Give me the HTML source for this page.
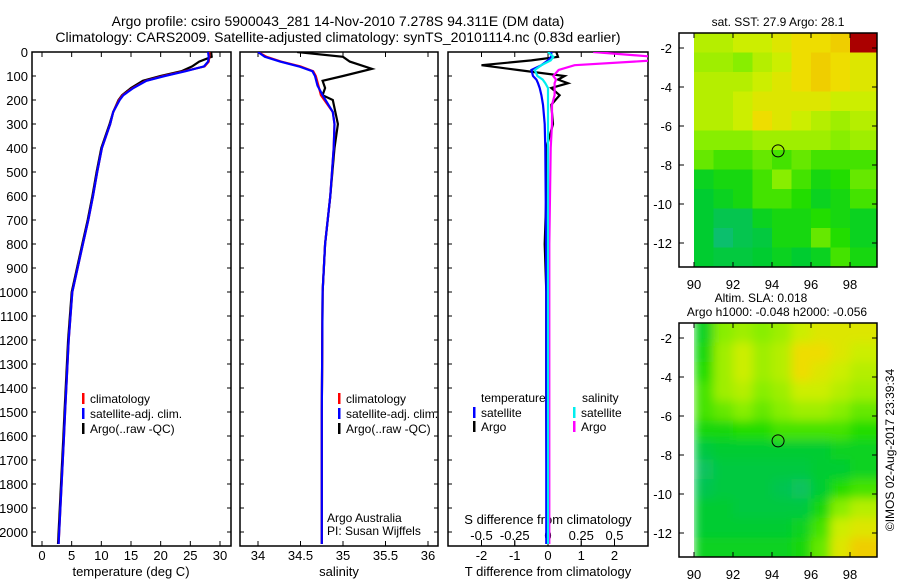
<!DOCTYPE html>
<html><head><meta charset="utf-8"><style>
body{margin:0;background:#fff}
svg{display:block;font-family:"Liberation Sans",sans-serif}
text{fill:#000}
</style></head><body>
<svg id="fig" width="900" height="580" viewBox="0 0 900 580">
<defs>
<clipPath id="c1"><rect x="32" y="52" width="199" height="494"/></clipPath>
<clipPath id="c2"><rect x="240" y="52" width="198" height="494"/></clipPath>
<clipPath id="c3"><rect x="448" y="52" width="200" height="494"/></clipPath>
<filter id="blur"><feGaussianBlur stdDeviation="5"/></filter>
<clipPath id="m1"><rect x="694" y="33" width="183" height="234"/></clipPath>
<clipPath id="m2"><rect x="694" y="323" width="183" height="234"/></clipPath>
</defs>
<text x="338" y="26" font-size="14" text-anchor="middle">Argo profile: csiro 5900043_281 14-Nov-2010 7.278S 94.311E (DM data)</text>
<text x="338" y="42" font-size="14" text-anchor="middle">Climatology: CARS2009. Satellite-adjusted climatology: synTS_20101114.nc (0.83d earlier)</text>
<g id="g"></g>
</svg>
<script>
// ---- data ----
const depthTicks=[0,100,200,300,400,500,600,700,800,900,1000,1100,1200,1300,1400,1500,1600,1700,1800,1900,2000];
const tTicks=[0,5,10,15,20,25,30];
const sTicks=[34,34.5,35,35.5,36];
const tdTicks=[-2,-1,0,1,2];
const sdTicks=[-0.5,-0.25,0,0.25,0.5];
const sdTickLabels=["-0.5","-0.25","0","0.25","0.5"];
const lonTicks=[90,92,94,96,98];
const latTicks=[-2,-4,-6,-8,-10,-12];

const tDepth=[0,20,40,60,80,100,120,150,180,200,250,300,400,500,600,700,800,900,1000,1100,1200,1300,1400,1500,1600,1700,1800,1900,2000,2050];
const tClim=[28.2,28.2,28.1,27.4,24,20.5,17.5,15.3,13.6,13,12,11.5,10.1,9.3,8.6,7.8,6.9,6.0,5.1,4.8,4.5,4.3,4.1,3.9,3.7,3.5,3.3,3.1,2.9,2.8];
const tSat=[28.0,28.1,28.0,27.3,24.2,20.7,17.6,15.4,13.7,13.1,12.0,11.5,10.1,9.3,8.6,7.8,6.9,6.0,5.1,4.8,4.5,4.3,4.1,3.9,3.7,3.5,3.3,3.1,2.9,2.8];
const tArgo=[28.5,28.6,26.5,25.3,23.5,20.0,17.0,15.0,13.5,12.9,12.0,11.4,10.0,9.2,8.5,7.7,6.8,5.9,5.0,4.7,4.4,4.2,4.0,3.8,3.6,3.4,3.2,3.0,2.8,2.7];

const sDepth=[0,20,40,60,80,100,140,180,250,300,400,600,800,1000,1500,2050];
const sClim=[34.0,34.1,34.27,34.5,34.65,34.68,34.71,34.74,34.88,34.9,34.89,34.85,34.79,34.76,34.75,34.75];
const sSat=[34.0,34.08,34.26,34.48,34.64,34.67,34.7,34.76,34.88,34.9,34.89,34.85,34.79,34.76,34.75,34.75];
const sArgoDepth=[0,20,40,70,100,120,150,180,200,300,400,600,800,1000,1500,2050];
const sArgo=[34.46,35.0,35.08,35.34,35.0,34.76,34.79,34.76,34.88,34.94,34.9,34.85,34.79,34.76,34.75,34.75];

const dDepth=[0,20,35,55,75,100,115,130,150,180,220,300,400,600,800,1000,1500,2050];
const dTArgo=[0.25,0.3,-0.5,-2.0,-0.9,0.5,0.3,0.6,0.1,0.35,0.1,0.15,-0.05,-0.05,-0.1,-0.05,-0.05,-0.03];
const dTSat=[0.1,0.1,0.0,-0.2,-0.5,-0.45,-0.35,-0.3,-0.25,-0.2,-0.15,-0.1,-0.08,-0.07,-0.06,-0.05,-0.05,-0.05];
const dSSat=[0,0.04,0.02,-0.05,-0.1,-0.08,-0.04,-0.02,0,0,0,0,0,0,0,0,0,0];
const dSArgo=[0.34,0.8,0.8,0.2,0.08,0.04,0.06,0.05,0.05,0.05,0.03,0.03,0.02,0.015,0.01,0.01,0.01,0.01];

const sstGrid=[
[0.7,0.7,0.75,0.75,0.8,0.85,0.85,0.9,2],
[0.65,0.65,0.6,0.7,0.75,0.85,0.9,0.85,0.8],
[0.7,0.7,0.7,0.75,0.8,0.85,0.9,0.85,0.8],
[0.7,0.7,0.75,0.8,0.8,0.8,0.8,0.75,0.75],
[0.7,0.7,0.75,0.85,0.8,0.75,0.7,0.65,0.7],
[0.6,0.6,0.6,0.65,0.65,0.65,0.65,0.6,0.65],
[0.55,0.5,0.5,0.55,0.5,0.55,0.5,0.5,0.5],
[0.35,0.4,0.4,0.5,0.6,0.5,0.4,0.45,0.55],
[0.3,0.35,0.4,0.5,0.5,0.45,0.35,0.4,0.5],
[0.3,0.2,0.2,0.35,0.4,0.4,0.45,0.4,0.35],
[0.3,0.1,0.2,0.25,0.4,0.4,0.55,0.45,0.35],
[0.3,0.25,0.25,0.3,0.35,0.3,0.35,0.5,0.4]];
const slaGrid=[
[0.35,0.6,0.65,0.6,0.65,0.75,0.8,0.8,0.8],
[0.4,0.65,0.75,0.65,0.7,0.85,0.85,0.8,0.75],
[0.45,0.65,0.75,0.65,0.7,0.85,0.8,0.75,0.7],
[0.5,0.65,0.7,0.6,0.65,0.75,0.75,0.7,0.65],
[0.5,0.55,0.6,0.55,0.6,0.65,0.65,0.6,0.55],
[0.4,0.4,0.45,0.45,0.5,0.5,0.5,0.5,0.45],
[0.25,0.3,0.3,0.3,0.3,0.3,0.3,0.35,0.35],
[0.15,0.25,0.25,0.25,0.25,0.25,0.3,0.3,0.35],
[0.2,0.25,0.25,0.25,0.2,0.15,0.3,0.45,0.5],
[0.3,0.3,0.25,0.25,0.25,0.25,0.4,0.6,0.7],
[0.3,0.3,0.3,0.3,0.3,0.35,0.5,0.75,0.8],
[0.35,0.35,0.35,0.35,0.35,0.4,0.55,0.8,0.9]];
const argoLon=94.311, argoLat=-7.278;

// ---- helpers ----
const NS='http://www.w3.org/2000/svg';
const G=document.getElementById('g');
function mk(tag,attrs,parent){const e=document.createElementNS(NS,tag);for(const k in attrs)e.setAttribute(k,attrs[k]);(parent||G).appendChild(e);return e;}
const yD=d=>52+d*0.24;
const xT=v=>42+v*5.933;
const xS=v=>258+(v-34)*85;
const xTd=v=>548+v*33.25;
const xSd=v=>548+v*133;

function frame(x,y,w,h,name){const r=mk('rect',{x:x,y:y,width:w,height:h,fill:'none',stroke:'#000','stroke-width':1.5});

}
function txt(x,y,s,opt){const t=mk('text',Object.assign({x:x,y:y,'font-size':13},opt||{}));t.textContent=s;return t;}
function line(xs,ds,fx,color,clip,name,w){
  const p=xs.map((v,i)=>fx(v).toFixed(1)+','+yD(ds[i]).toFixed(1)).join(' ');
  const e=mk('polyline',{points:p,fill:'none',stroke:color,'stroke-width':w||2.2,'clip-path':'url(#'+clip+')'});
  
  
}
function legend(x,y,color,label,name){
  const m=mk('rect',{x:x,y:y-10,width:2.5,height:11,fill:color});
  
  
  const t=txt(x+8,y,label,{'font-size':12});
  
  
}

// ---- panels ----
const panels=[[32,199,'c1'],[240,198,'c2'],[448,200,'c3']];
frame(32,52,199,494,'temperature-panel');
frame(240,52,198,494,'salinity-panel');
frame(448,52,200,494,'difference-panel');
depthTicks.forEach(d=>{
  const t=txt(28,yD(d)+5,String(d),{'text-anchor':'end'});
  
  
  panels.forEach(p=>{mk('line',{x1:p[0],x2:p[0]+4,y1:yD(d),y2:yD(d),stroke:'#000'});mk('line',{x1:p[0]+p[1]-4,x2:p[0]+p[1],y1:yD(d),y2:yD(d),stroke:'#000'});});
});
function xticks(ticks,fx,labels,ylab){
  ticks.forEach((v,i)=>{const x=fx(v);mk('line',{x1:x,x2:x,y1:546,y2:541,stroke:'#000'});mk('line',{x1:x,x2:x,y1:52,y2:57,stroke:'#000'});
    const t=txt(x,ylab,labels?labels[i]:String(v),{'text-anchor':'middle'});
    
    });
}
xticks(tTicks,xT,null,560);
xticks(sTicks,xS,null,560);
xticks(tdTicks,xTd,null,560);
sdTicks.forEach((v,i)=>{const x=xSd(v);mk('line',{x1:x,x2:x,y1:546,y2:540,stroke:'#000'});
  const t=txt(x,540,sdTickLabels[i],{'text-anchor':'middle'});
  
  });
[[131,'temperature (deg C)','temperature-axis-title'],[339,'salinity','salinity-axis-title'],[548,'T difference from climatology','t-diff-axis-title']].forEach(a=>{
  const t=txt(a[0],576,a[1],{'text-anchor':'middle'});
  
  });
const sdt=txt(548,524,'S difference from climatology',{'text-anchor':'middle'});



line(tArgo,tDepth,xT,'#000','c1','temp-argo');
line(tClim,tDepth,xT,'#f00','c1','temp-climatology');
line(tSat,tDepth,xT,'#00f','c1','temp-satellite');
line(sArgo,sArgoDepth,xS,'#000','c2','sal-argo');
line(sClim,sDepth,xS,'#f00','c2','sal-climatology');
line(sSat,sDepth,xS,'#00f','c2','sal-satellite');
line(dTArgo,dDepth,xTd,'#000','c3','tdiff-argo');
line(dSArgo,dDepth,xSd,'#f0f','c3','sdiff-argo');
line(dTSat,dDepth,xTd,'#00f','c3','tdiff-satellite');
line(dSSat,dDepth,xSd,'#0ee','c3','sdiff-satellite');

legend(82,403,'#f00','climatology','legend-t-climatology');
legend(82,418,'#00f','satellite-adj. clim.','legend-t-satellite');
legend(82,433,'#000','Argo(..raw -QC)','legend-t-argo');
legend(338,403,'#f00','climatology','legend-s-climatology');
legend(338,418,'#00f','satellite-adj. clim.','legend-s-satellite');
legend(338,433,'#000','Argo(..raw -QC)','legend-s-argo');
let t1=txt(481,402,'temperature',{'font-size':12});
let t2=txt(582,402,'salinity',{'font-size':12});
legend(473,417,'#00f','satellite','legend-tdiff-satellite');
legend(473,431,'#000','Argo','legend-tdiff-argo');
legend(573,417,'#0ee','satellite','legend-sdiff-satellite');
legend(573,431,'#f0f','Argo','legend-sdiff-argo');
let a1=txt(327,522,'Argo Australia',{'font-size':12});
let a2=txt(327,535,'PI: Susan Wijffels',{'font-size':12});

// ---- maps ----
const stops=[[0,[16,184,140]],[0.3,[0,204,48]],[0.45,[34,221,0]],[0.6,[136,238,0]],[0.75,[204,238,0]],[0.85,[238,221,0]],[1,[240,176,0]]];
function cmap(v){if(v>1.5)return '#aa0000';for(let i=1;i<stops.length;i++){if(v<=stops[i][0]){const a=stops[i-1],b=stops[i],f=(v-a[0])/(b[0]-a[0]);return 'rgb('+a[1].map((c,k)=>Math.round(c+(b[1][k]-c)*f)).join(',')+')';}}return 'rgb(240,176,0)';}
function drawMap(top,grid,name,blur,clip){
  const xL=lon=>694+(lon-90)*19.5, yL=lat=>top+15+(-2-lat)*19.5;
  const wrap=mk('g',{'clip-path':'url(#'+clip+')'});
  const g=mk('g',blur?{filter:'url(#blur)'}:{},wrap);
  grid.forEach((row,r)=>row.forEach((v,c)=>{
    const y0=top+r*19.5, x0=xL(90+c);
    const w=c==8?(877-x0)+(blur?20:0):19.6;
    const h=(r==11?(top+234-y0):19.6)+(blur&&r==11?20:0)+(blur&&r==0?20:0);
    const e=mk('rect',{x:x0,y:y0-(blur&&r==0?20:0),width:w,height:h,fill:cmap(v)},g);
    
    
  }));
  const wh=mk('rect',{x:679,y:top,width:15,height:234,fill:'#fff'});
  
  
  frame(679,top,198,234,name);
  lonTicks.forEach(l=>{const x=xL(l);mk('line',{x1:x,x2:x,y1:top+234,y2:top+229,stroke:'#000'});mk('line',{x1:x,x2:x,y1:top,y2:top+5,stroke:'#000'});
    const t=txt(x,top+256,String(l),{'text-anchor':'middle'});});
  latTicks.forEach(l=>{const y=yL(l);mk('line',{x1:679,x2:684,y1:y,y2:y,stroke:'#000'});mk('line',{x1:872,x2:877,y1:y,y2:y,stroke:'#000'});
    const t=txt(672,y+5,String(l),{'text-anchor':'end'});});
  const c=mk('circle',{cx:xL(argoLon),cy:yL(argoLat),r:6,fill:'none',stroke:'#000','stroke-width':1});
  
  
}
drawMap(33,sstGrid,'sst-map',false,'m1');
drawMap(323,slaGrid,'sla-map',true,'m2');
let m1=txt(778,26,'sat. SST: 27.9 Argo: 28.1',{'font-size':12,'text-anchor':'middle'});
let m2=txt(761,302,'Altim. SLA: 0.018',{'font-size':12,'text-anchor':'middle'});
let m3=txt(777,316,'Argo h1000: -0.048 h2000: -0.056',{'font-size':12,'text-anchor':'middle'});
let cr=txt(894,450,'©IMOS 02-Aug-2017 23:39:34',{'font-size':12,'text-anchor':'middle',transform:'rotate(-90 894 450)'});
</script>
</body></html>
